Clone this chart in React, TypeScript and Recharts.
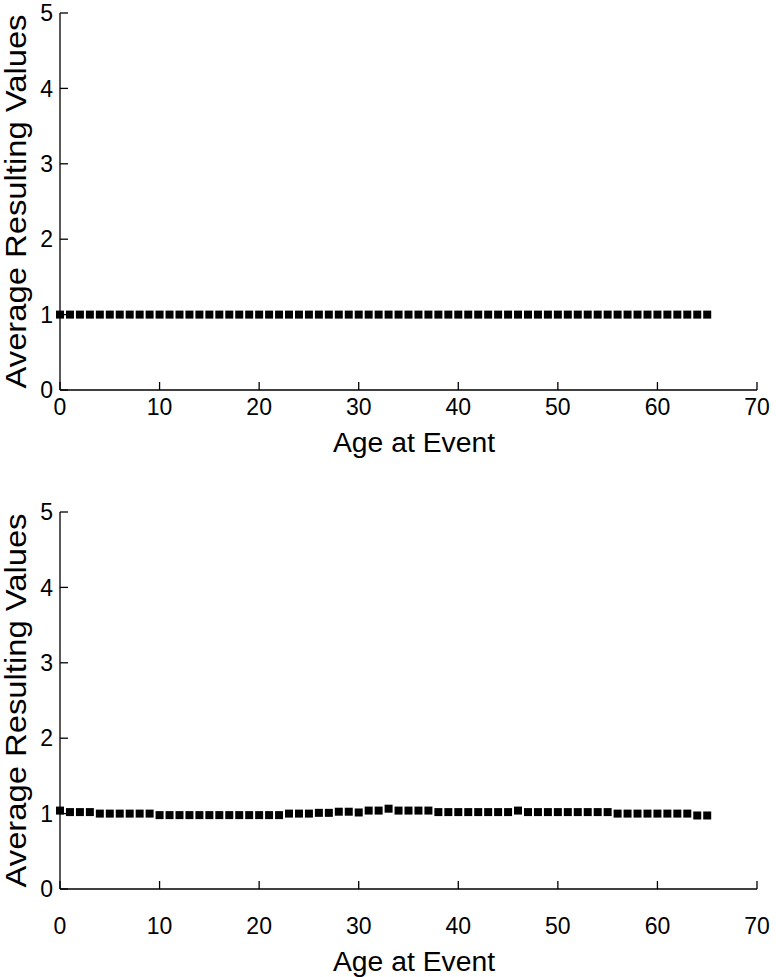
import { ScatterChart, Scatter, XAxis, YAxis, ZAxis, Label } from 'recharts';

const ages = [
  0, 1, 2, 3, 4, 5, 6, 7, 8, 9, 10, 11, 12, 13, 14, 15, 16, 17, 18, 19, 20, 21,
  22, 23, 24, 25, 26, 27, 28, 29, 30, 31, 32, 33, 34, 35, 36, 37, 38, 39, 40, 41, 42, 43,
  44, 45, 46, 47, 48, 49, 50, 51, 52, 53, 54, 55, 56, 57, 58, 59, 60, 61, 62, 63, 64, 65,
];

const topValues = [
  1, 1, 1, 1, 1, 1, 1, 1, 1, 1, 1, 1, 1, 1, 1, 1, 1, 1, 1, 1, 1, 1,
  1, 1, 1, 1, 1, 1, 1, 1, 1, 1, 1, 1, 1, 1, 1, 1, 1, 1, 1, 1, 1, 1,
  1, 1, 1, 1, 1, 1, 1, 1, 1, 1, 1, 1, 1, 1, 1, 1, 1, 1, 1, 1, 1, 1,
];

const bottomValues = [
  1.04, 1.02, 1.02, 1.02, 1.0, 1.0, 1.0, 1.0, 1.0, 1.0, 0.98, 0.98, 0.98, 0.98, 0.98, 0.98, 0.98, 0.98, 0.98, 0.98, 0.98, 0.98,
  0.98, 1.0, 1.0, 1.0, 1.01, 1.01, 1.025, 1.025, 1.015, 1.04, 1.04, 1.065, 1.04, 1.04, 1.04, 1.04, 1.02, 1.02, 1.02, 1.02, 1.02, 1.02,
  1.02, 1.02, 1.04, 1.02, 1.02, 1.02, 1.02, 1.02, 1.02, 1.02, 1.02, 1.02, 1.0, 1.0, 1.0, 1.0, 1.0, 1.0, 1.0, 1.0, 0.975, 0.975,
];

const xTicks = [0, 10, 20, 30, 40, 50, 60, 70];
const yTicks = [0, 1, 2, 3, 4, 5];

const FONT = '"Liberation Sans", Arial, Helvetica, sans-serif';

// axis titles drawn by hand so they can be stretched to the reference's length
const YTitle = (props: any) => {
  const vb = props.viewBox || {};
  const cx = 16;
  const cy = vb.y + vb.height / 2;
  return (
    <text
      x={cx}
      y={cy}
      transform={`rotate(-90, ${cx}, ${cy})`}
      textAnchor="middle"
      dominantBaseline="central"
      textLength={374}
      lengthAdjust="spacingAndGlyphs"
      fill="#000"
      fontSize={29}
      fontFamily={FONT}
    >
      Average Resulting Values
    </text>
  );
};

const XTitle = (props: any) => {
  const vb = props.viewBox || {};
  return (
    <text
      x={414}
      y={vb.y + props.baseline}
      textAnchor="middle"
      textLength={162}
      lengthAdjust="spacingAndGlyphs"
      fill="#000"
      fontSize={27}
      fontFamily={FONT}
    >
      Age at Event
    </text>
  );
};

interface PanelProps {
  values: number[];
  height: number;
  top: number;
  xAxisHeight: number;
  xTickMargin: number;
  xTitleBaseline: number;
}

const Panel = ({ values, height, top, xAxisHeight, xTickMargin, xTitleBaseline }: PanelProps) => {
  const data = ages.map((age, i) => ({ age, value: values[i] }));
  return (
    <ScatterChart width={776} height={height} margin={{ top, right: 19, bottom: 0, left: 0 }}>
      <XAxis
        type="number"
        dataKey="age"
        domain={[0, 70]}
        ticks={xTicks}
        interval={0}
        height={xAxisHeight}
        tickSize={-8}
        tickMargin={xTickMargin}
        stroke="#000"
        strokeWidth={1.3}
        tick={{ fill: '#000', fontSize: 23, fontFamily: FONT }}
      >
        <Label content={(p: any) => <XTitle {...p} baseline={xTitleBaseline} />} />
      </XAxis>
      <YAxis
        type="number"
        dataKey="value"
        domain={[0, 5]}
        ticks={yTicks}
        interval={0}
        width={60}
        tickSize={-8}
        tickMargin={15}
        stroke="#000"
        strokeWidth={1.3}
        tick={{ fill: '#000', fontSize: 23, fontFamily: FONT }}
      >
        <Label content={(p: any) => <YTitle {...p} />} />
      </YAxis>
      <ZAxis range={[90, 90]} />
      <Scatter data={data} fill="#000" shape="square" isAnimationActive={false} />
    </ScatterChart>
  );
};

export default function App() {
  return (
    <div style={{ position: 'absolute', left: 0, top: 0, width: 776, height: 977, background: '#fff' }}>
      <Panel values={topValues} height={470} top={13} xAxisHeight={80} xTickMargin={17} xTitleBaseline={62} />
      <Panel values={bottomValues} height={507} top={42} xAxisHeight={88} xTickMargin={37} xTitleBaseline={82} />
    </div>
  );
}
